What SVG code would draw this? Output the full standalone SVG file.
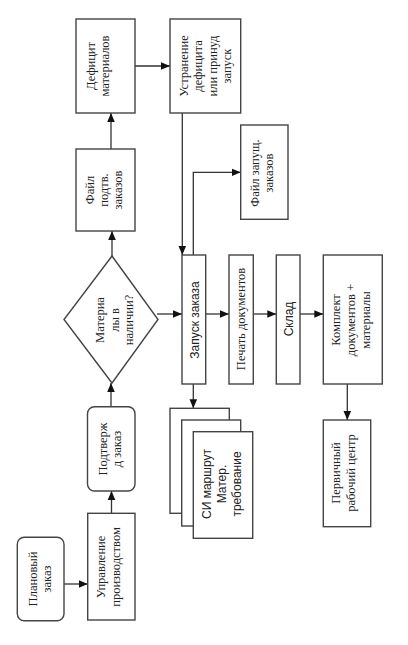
<svg xmlns="http://www.w3.org/2000/svg" width="408" height="645" viewBox="0 0 408 645">
<style>
.box{fill:#fff;stroke:#444;stroke-width:1.4}
.ln{fill:none;stroke:#333;stroke-width:1.3}
.s{font-family:"Liberation Serif","Times New Roman",serif;font-size:12.5px;fill:#222;text-anchor:middle}
.a{font-family:"Liberation Sans",Arial,sans-serif;font-size:12px;fill:#222;text-anchor:middle}
</style>
<defs>
<marker id="ar" markerUnits="userSpaceOnUse" markerWidth="10" markerHeight="10" viewBox="0 0 10 10" refX="9" refY="5" orient="auto">
<path d="M0,1.2 L9,5 L0,8.8 Z" fill="#111"/>
</marker>
</defs>
<rect width="408" height="645" fill="#fff"/>

<g id="connectors">
<line class="ln" x1="64" y1="584" x2="87.7" y2="584" marker-end="url(#ar)"/>
<line class="ln" x1="111.5" y1="513" x2="111.5" y2="491" marker-end="url(#ar)"/>
<line class="ln" x1="111" y1="407" x2="111" y2="383" marker-end="url(#ar)"/>
<line class="ln" x1="112" y1="256" x2="112" y2="231" marker-end="url(#ar)"/>
<line class="ln" x1="111" y1="149" x2="111" y2="113" marker-end="url(#ar)"/>
<line class="ln" x1="135" y1="66" x2="170" y2="66" marker-end="url(#ar)"/>
<line class="ln" x1="182.3" y1="113" x2="182.3" y2="255" marker-end="url(#ar)"/>
<polyline class="ln" points="193.3,255 193.3,172.3 240.7,172.3" marker-end="url(#ar)"/>
<line class="ln" x1="157" y1="314" x2="182" y2="314" marker-end="url(#ar)"/>
<line class="ln" x1="206" y1="314" x2="229" y2="314" marker-end="url(#ar)"/>
<line class="ln" x1="253.3" y1="314" x2="276.3" y2="314" marker-end="url(#ar)"/>
<line class="ln" x1="300" y1="314" x2="323.3" y2="314" marker-end="url(#ar)"/>
<line class="ln" x1="347.3" y1="384" x2="347.3" y2="420" marker-end="url(#ar)"/>
<line class="ln" x1="193.3" y1="384" x2="193.3" y2="408.3" marker-end="url(#ar)"/>
</g>

<g id="planovy">
<rect class="box" x="17.3" y="537.3" width="46.7" height="83.4" rx="7"/>
<text class="s" transform="translate(0,579) rotate(-90)"><tspan x="0" y="37">Плановый</tspan><tspan x="0" y="51">заказ</tspan></text>
</g>

<g id="upravlenie">
<rect class="box" x="87.7" y="513.3" width="47.3" height="106.7"/>
<text class="s" transform="translate(0,567) rotate(-90)"><tspan x="0" y="105">Управление</tspan><tspan x="0" y="119.5">производством</tspan></text>
</g>

<g id="podtverzhd">
<rect class="box" x="87.5" y="406.7" width="47.5" height="84.3" rx="7"/>
<text class="s" transform="translate(0,449) rotate(-90)"><tspan x="0" y="107">Подтверж</tspan><tspan x="0" y="121">д заказ</tspan></text>
</g>

<g id="romb">
<polygon class="box" points="112,256 158,319.5 112,383 64,319.5"/>
<text class="s" transform="translate(0,320) rotate(-90)"><tspan x="0" y="103.5">Материа</tspan><tspan x="0" y="118.5">лы в</tspan><tspan x="0" y="133">наличии?</tspan></text>
</g>

<g id="fajl-podtv">
<rect class="box" x="76" y="149" width="59" height="82"/>
<text class="s" transform="translate(0,190) rotate(-90)"><tspan x="0" y="93.5">Файл</tspan><tspan x="0" y="108">подтв.</tspan><tspan x="0" y="122">заказов</tspan></text>
</g>

<g id="deficit">
<rect class="box" x="76" y="19" width="59" height="94"/>
<text class="s" transform="translate(0,66) rotate(-90)"><tspan x="0" y="94.5">Дефицит</tspan><tspan x="0" y="109">материалов</tspan></text>
</g>

<g id="ustranenie">
<rect class="box" x="170" y="19" width="70.7" height="94"/>
<text class="s" transform="translate(0,66) rotate(-90)"><tspan x="0" y="187.5">Устранение</tspan><tspan x="0" y="202">дефицита</tspan><tspan x="0" y="216.5">или принуд</tspan><tspan x="0" y="231">запуск</tspan></text>
</g>

<g id="fajl-zapusch">
<rect class="box" x="240.7" y="125" width="47.3" height="94.3"/>
<text class="s" transform="translate(0,173) rotate(-90)"><tspan x="0" y="259">Файл запущ.</tspan><tspan x="0" y="273">заказов</tspan></text>
</g>

<g id="zapusk">
<rect class="box" x="182" y="255" width="23.7" height="129"/>
<text class="a" transform="translate(0,320) rotate(-90)" x="0" y="198.5">Запуск заказа</text>
</g>

<g id="pechat">
<rect class="box" x="229" y="255" width="24.3" height="129"/>
<text class="s" transform="translate(0,319) rotate(-90)" x="0" y="244.5">Печать документов</text>
</g>

<g id="sklad">
<rect class="box" x="276.3" y="255" width="23.7" height="129"/>
<text class="a" transform="translate(0,319) rotate(-90)" x="0" y="292.5">Склад</text>
</g>

<g id="komplekt">
<rect class="box" x="323.3" y="255" width="59" height="129"/>
<text class="s" transform="translate(0,320) rotate(-90)"><tspan x="0" y="340">Комплект</tspan><tspan x="0" y="355">документов +</tspan><tspan x="0" y="370">материалы</tspan></text>
</g>

<g id="pervichny">
<rect class="box" x="323.3" y="420" width="47.4" height="106.7"/>
<text class="s" transform="translate(0,473) rotate(-90)"><tspan x="0" y="340">Первичный</tspan><tspan x="0" y="354.5">рабочий центр</tspan></text>
</g>

<g id="dokumenty">
<rect class="box" x="170" y="408.3" width="59.3" height="105"/>
<rect class="box" x="181.7" y="420" width="59" height="106"/>
<rect class="box" x="193.3" y="431.7" width="59.4" height="106.6"/>
<text class="a" transform="translate(0,484) rotate(-90)"><tspan x="0" y="211">СИ маршрут</tspan><tspan x="0" y="226">Матер.</tspan><tspan x="0" y="241">требование</tspan></text>
</g>
</svg>
